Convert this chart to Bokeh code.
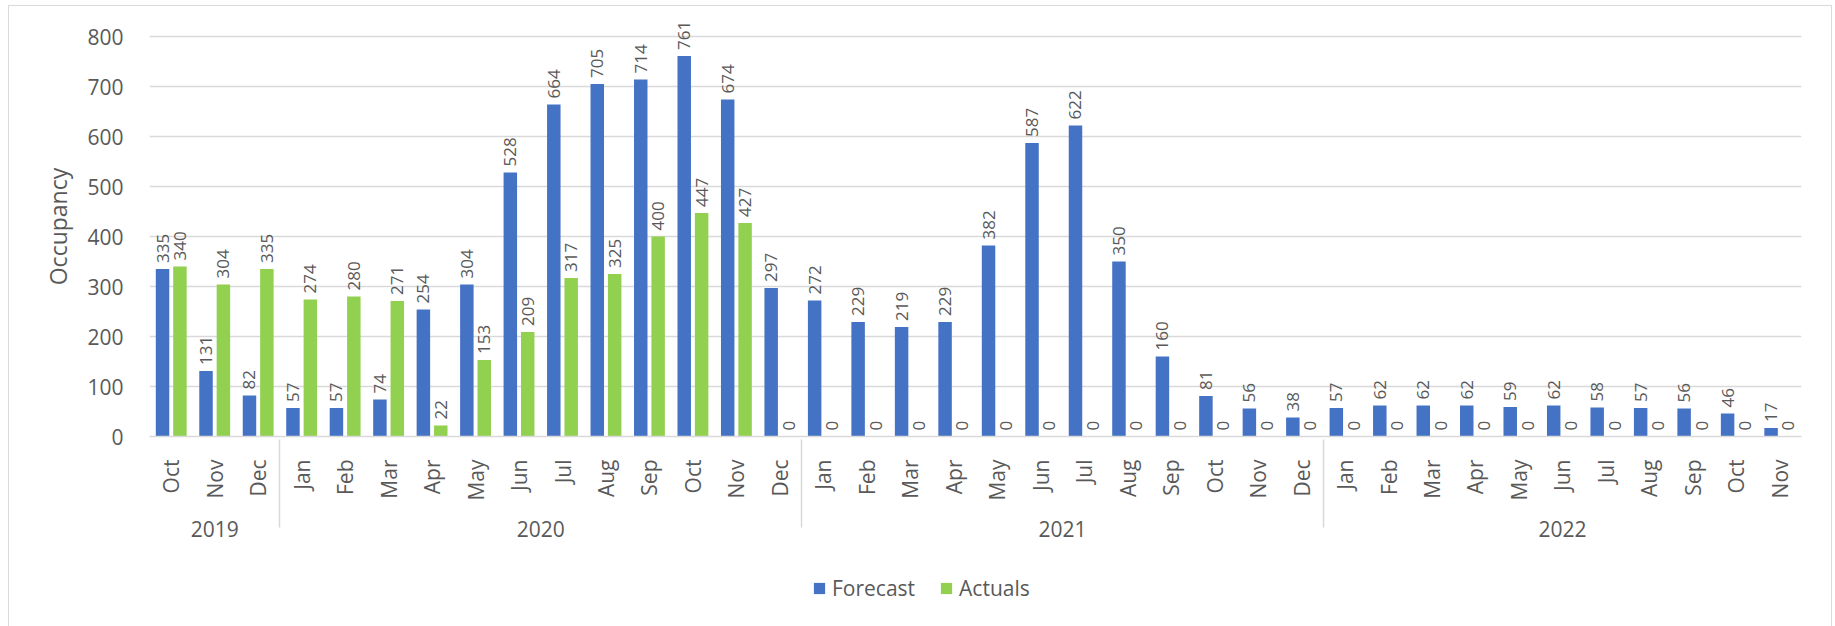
import math
from bokeh.plotting import figure
from bokeh.layouts import column
from bokeh.models import (ColumnDataSource, FactorRange, Range1d, Legend, LegendItem,
                          SingleIntervalTicker)
from bokeh.transform import dodge
from bokeh.core.properties import value
from bokeh.embed import file_html
from bokeh.resources import INLINE

# ---- data ----
year_labels = ["2019"] * 3 + ["2020"] * 12 + ["2021"] * 12 + ["2022"] * 11
month_labels = (["Oct", "Nov", "Dec"] +
                ["Jan", "Feb", "Mar", "Apr", "May", "Jun", "Jul", "Aug", "Sep", "Oct", "Nov", "Dec"] +
                ["Jan", "Feb", "Mar", "Apr", "May", "Jun", "Jul", "Aug", "Sep", "Oct", "Nov", "Dec"] +
                ["Jan", "Feb", "Mar", "Apr", "May", "Jun", "Jul", "Aug", "Sep", "Oct", "Nov"])
forecast = [335, 131, 82,
            57, 57, 74, 254, 304, 528, 664, 705, 714, 761, 674, 297,
            272, 229, 219, 229, 382, 587, 622, 350, 160, 81, 56, 38,
            57, 62, 62, 62, 59, 62, 58, 57, 56, 46, 17]
actuals = [340, 304, 335,
           274, 280, 271, 22, 153, 209, 317, 325, 400, 447, 427, 0,
           0, 0, 0, 0, 0, 0, 0, 0, 0, 0, 0, 0,
           0, 0, 0, 0, 0, 0, 0, 0, 0, 0, 0]
series_names = ["Forecast", "Actuals"]
y_ticks_interval = 100

BLUE = "#4472C4"
GREEN = "#92D050"
GRAY = "#595959"
LIGHT = "#d9d9d9"
FONT = "Open Sans"

factors = list(zip(year_labels, month_labels))
src = ColumnDataSource(dict(
    x=factors,
    forecast=forecast,
    actuals=actuals,
    f_lab=[str(v) for v in forecast],
    a_lab=[str(v) for v in actuals],
))

W = 1822
P_H = 568
p = figure(
    width=W, height=P_H,
    x_range=FactorRange(*factors, range_padding=0, group_padding=0, factor_padding=0),
    y_range=Range1d(0, 840),
    output_backend="svg", toolbar_location=None,
    min_border_left=140, min_border_right=30, min_border_top=10, min_border_bottom=P_H - 430,
)
p.outline_line_color = None
p.background_fill_color = "white"
p.border_fill_color = "white"

off = 0.2
bw = 0.31
r_f = p.vbar(x=dodge("x", -off, range=p.x_range), top="forecast", width=bw, source=src,
             fill_color=BLUE, line_color=None)
r_a = p.vbar(x=dodge("x", off, range=p.x_range), top="actuals", width=bw, source=src,
             fill_color=GREEN, line_color=None)

p.text(x=dodge("x", -off, range=p.x_range), y="forecast", text="f_lab", source=src,
       angle=math.pi / 2, text_align="left", text_baseline="middle", y_offset=-6,
       text_font=value(FONT), text_font_size="17px", text_color=GRAY)
p.text(x=dodge("x", off, range=p.x_range), y="actuals", text="a_lab", source=src,
       angle=math.pi / 2, text_align="left", text_baseline="middle", y_offset=-6,
       text_font=value(FONT), text_font_size="17px", text_color=GRAY)

# grid
p.xgrid.grid_line_color = None
p.ygrid.grid_line_color = LIGHT
p.ygrid.grid_line_width = 1.5

# y axis
p.yaxis.ticker = SingleIntervalTicker(interval=y_ticks_interval)
p.yaxis.axis_line_color = None
p.yaxis.major_tick_line_color = None
p.yaxis.minor_tick_line_color = None
p.yaxis.major_label_text_font = FONT
p.yaxis.major_label_text_font_size = "21px"
p.yaxis.major_label_text_color = GRAY
p.yaxis.major_label_standoff = 20
p.yaxis.axis_label = "Occupancy"
p.yaxis.axis_label_text_font = FONT
p.yaxis.axis_label_text_font_size = "23px"
p.yaxis.axis_label_text_font_style = "normal"
p.yaxis.axis_label_text_color = GRAY
p.yaxis.axis_label_standoff = 10

# x axis
xa = p.xaxis[0]
xa.axis_line_color = LIGHT
xa.axis_line_width = 1.5
xa.major_tick_line_color = None
xa.minor_tick_line_color = None
xa.major_label_orientation = math.pi / 2
xa.major_label_text_font = FONT
xa.major_label_text_font_size = "21px"
xa.major_label_text_color = GRAY
xa.major_label_standoff = 17
xa.group_label_orientation = "horizontal"
xa.group_text_font = FONT
xa.group_text_font_size = "21px"
xa.group_text_color = GRAY
xa.group_text_font_style = "normal"
xa.separator_line_color = LIGHT
xa.separator_line_width = 1.5

# ---- legend strip below the chart ----
q = figure(width=W, height=620 - P_H, x_range=Range1d(0, 1), y_range=Range1d(0, 1),
           output_backend="svg", toolbar_location=None,
           min_border_left=0, min_border_right=0, min_border_top=0, min_border_bottom=0)
q.axis.visible = False
q.grid.visible = False
q.outline_line_color = None
q.border_fill_color = "white"
# legend swatches (placed outside the visible range; only used by the legend)
lf = q.vbar(x=[0.5], bottom=[-3], top=[-2], width=0.1, fill_color=BLUE, line_color=None)
la = q.vbar(x=[0.5], bottom=[-3], top=[-2], width=0.1, fill_color=GREEN, line_color=None)
legend = Legend(items=[LegendItem(label=series_names[0], renderers=[lf]),
                       LegendItem(label=series_names[1], renderers=[la])],
                orientation="horizontal", location=(663, 24),
                label_text_font=FONT, label_text_font_size="21px", label_text_color=GRAY,
                glyph_width=14, glyph_height=14, label_standoff=6, spacing=24,
                border_line_color=None, background_fill_alpha=0, margin=0, padding=2)
q.add_layout(legend)

lay = column(p, q, spacing=0)
lay.margin = (5, 0, 0, 8)
lay.styles = {"border-top": "1px solid #d9d9d9", "border-left": "1px solid #d9d9d9",
              "border-right": "1px solid #d9d9d9"}

open("out.html", "w").write(file_html(lay, INLINE))
